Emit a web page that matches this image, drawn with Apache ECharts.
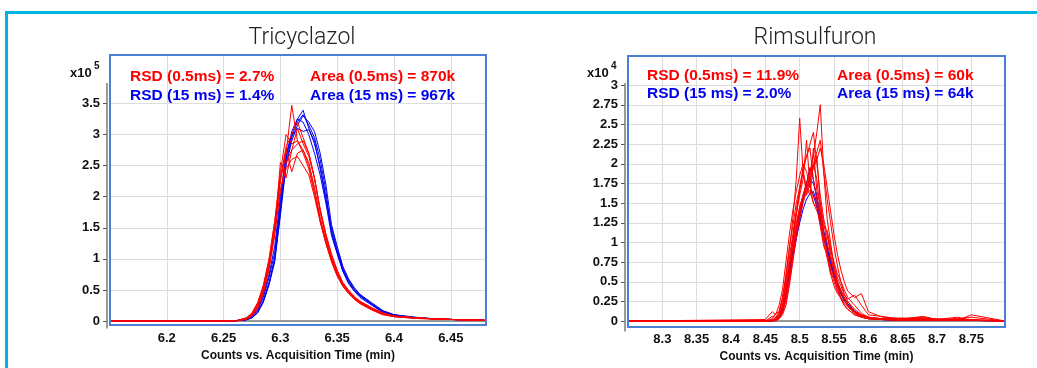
<!DOCTYPE html>
<html>
<head>
<meta charset="utf-8">
<script src="https://cdn.jsdelivr.net/npm/echarts@6/dist/echarts.min.js"></script>
<style>
    html, body { margin: 0; padding: 0; background: #fff; }
    #chartView { width: 1037px; height: 368px; }
</style>
</head>
<body>
<div id="chartView"></div>
<script>
    // Tricyclazol, counts x10^5
    var triTime = [6.15, 6.26, 6.27, 6.275, 6.28, 6.285, 6.29, 6.295, 6.30, 6.305, 6.31, 6.315, 6.32, 6.325, 6.33, 6.335, 6.34, 6.345, 6.35, 6.355, 6.36, 6.365, 6.37, 6.38, 6.39, 6.40, 6.42, 6.44, 6.46, 6.48];
    var triYTicks = [0, 0.5, 1, 1.5, 2, 2.5, 3, 3.5];
    var triBlue = [
        [0,0,0.03,0.07,0.18,0.38,0.7,1.1,1.9,2.65,3.0,3.2,3.32,3.15,2.95,2.6,2.1,1.4,1.1,0.8,0.62,0.5,0.4,0.27,0.15,0.09,0.05,0.03,0.02,0.01],
        [0,0,0.02,0.06,0.15,0.33,0.62,1.0,1.75,2.55,2.95,3.25,3.39,3.1,2.85,2.5,2.0,1.45,1.12,0.83,0.64,0.5,0.41,0.28,0.16,0.1,0.05,0.03,0.02,0.01],
        [0,0,0.03,0.08,0.2,0.42,0.75,1.2,2.0,2.7,2.98,3.1,3.05,3.08,2.9,2.45,1.95,1.5,1.15,0.85,0.66,0.52,0.42,0.28,0.16,0.1,0.05,0.03,0.02,0.01],
        [0,0,0.02,0.05,0.14,0.32,0.6,1.0,1.8,2.6,3.05,3.25,3.2,3.0,2.7,2.35,1.9,1.38,1.08,0.8,0.6,0.48,0.38,0.26,0.14,0.09,0.05,0.03,0.02,0.01],
        [0,0,0.02,0.05,0.13,0.3,0.58,0.95,1.7,2.5,2.9,3.15,3.3,3.2,3.05,2.7,2.2,1.55,1.2,0.88,0.68,0.54,0.43,0.3,0.17,0.1,0.06,0.03,0.02,0.01]
    ];
    var triRed = [
        [0,0,0.04,0.1,0.24,0.5,0.92,1.5,2.25,2.7,3.47,2.9,2.75,2.55,2.15,1.65,1.3,1.0,0.75,0.58,0.46,0.37,0.3,0.2,0.12,0.08,0.05,0.03,0.02,0.01],
        [0,0,0.05,0.12,0.28,0.55,0.98,1.6,2.4,3.0,2.85,2.9,2.7,2.45,2.05,1.6,1.25,0.95,0.72,0.56,0.45,0.36,0.29,0.19,0.11,0.07,0.04,0.03,0.02,0.01],
        [0,0,0.03,0.09,0.22,0.47,0.88,1.45,2.55,2.3,2.75,3.1,2.85,2.65,2.3,1.8,1.4,1.05,0.8,0.6,0.48,0.38,0.31,0.21,0.13,0.08,0.05,0.03,0.02,0.01],
        [0,0,0.04,0.11,0.26,0.52,0.9,1.45,2.1,2.45,2.6,2.65,2.5,2.35,2.0,1.6,1.25,0.98,0.74,0.57,0.46,0.36,0.29,0.19,0.11,0.07,0.05,0.03,0.02,0.01],
        [0,0,0.03,0.08,0.2,0.44,0.82,1.38,2.1,2.55,2.75,2.85,2.9,2.7,2.3,1.8,1.4,1.08,0.82,0.62,0.5,0.4,0.32,0.22,0.13,0.08,0.05,0.03,0.02,0.01],
        [0,0,0.05,0.13,0.3,0.58,1.0,1.6,2.3,2.75,2.4,2.7,2.75,2.5,2.1,1.65,1.28,0.98,0.74,0.56,0.44,0.35,0.28,0.18,0.1,0.07,0.04,0.03,0.02,0.01],
        [0,0,0.03,0.09,0.23,0.48,0.9,1.5,2.3,2.8,3.0,3.2,2.95,2.7,2.3,1.75,1.35,1.03,0.78,0.6,0.48,0.38,0.31,0.21,0.12,0.08,0.05,0.03,0.02,0.01]
    ];

    // Rimsulfuron, counts x10^4
    var rimTime = [8.25, 8.45, 8.46, 8.465, 8.47, 8.475, 8.48, 8.485, 8.49, 8.495, 8.50, 8.505, 8.51, 8.515, 8.52, 8.525, 8.53, 8.535, 8.54, 8.545, 8.55, 8.555, 8.56, 8.565, 8.57, 8.58, 8.59, 8.60, 8.62, 8.65, 8.68, 8.70, 8.73, 8.75, 8.80];
    var rimYTicks = [0, 0.25, 0.5, 0.75, 1, 1.25, 1.5, 1.75, 2, 2.25, 2.5, 2.75, 3];
    var rimBlue = [
        [0,0,0,0.01,0.05,0.15,0.35,0.6,0.85,1.1,1.35,1.55,1.7,1.8,1.75,1.6,1.35,1.15,0.95,0.75,0.6,0.48,0.37,0.28,0.22,0.12,0.07,0.04,0.02,0.01,0.01,0.01,0.01,0.01,0],
        [0,0,0,0.01,0.04,0.12,0.3,0.55,0.8,1.05,1.3,1.55,1.75,1.95,1.8,1.55,1.3,1.1,0.9,0.72,0.58,0.46,0.36,0.27,0.2,0.11,0.06,0.04,0.02,0.01,0.01,0.01,0.01,0.01,0],
        [0,0,0,0.01,0.05,0.15,0.33,0.58,0.82,1.05,1.25,1.42,1.55,1.62,1.65,1.5,1.3,1.12,0.95,0.77,0.62,0.5,0.38,0.29,0.22,0.13,0.07,0.04,0.02,0.01,0.01,0.01,0.01,0.01,0],
        [0,0,0,0.02,0.06,0.17,0.38,0.63,0.9,1.15,1.4,1.6,1.75,1.7,1.6,1.45,1.25,1.05,0.88,0.7,0.56,0.44,0.34,0.26,0.2,0.11,0.06,0.03,0.02,0.01,0.01,0.01,0.01,0.01,0]
    ];
    var rimRed = [
        [0,0,0,0.02,0.08,0.2,0.45,0.7,0.95,1.2,1.45,1.6,1.75,1.9,2.1,2.4,2.75,1.9,1.3,1.0,0.7,0.5,0.4,0.3,0.25,0.15,0.08,0.05,0.03,0.02,0.04,0.02,0.05,0.01,0],
        [0,0,0.03,0.1,0.12,0.3,0.55,0.9,1.3,1.8,2.58,1.9,1.7,1.6,2.0,1.8,1.4,1.1,0.9,0.6,0.45,0.35,0.3,0.22,0.18,0.1,0.06,0.04,0.02,0.03,0.05,0.02,0.01,0.08,0],
        [0,0,0,0.01,0.05,0.15,0.35,0.65,1.0,1.35,1.65,1.9,2.1,2.25,2.4,2.0,1.6,1.3,1.1,0.85,0.65,0.45,0.3,0.2,0.15,0.08,0.05,0.03,0.02,0.01,0.02,0.01,0.03,0.02,0],
        [0,0,0.06,0.05,0.1,0.25,0.5,0.8,1.1,1.4,1.7,1.95,2.1,2.2,1.8,1.55,1.4,1.2,1.15,0.95,0.7,0.55,0.45,0.33,0.28,0.33,0.2,0.08,0.06,0.02,0.03,0.01,0.02,0.01,0],
        [0,0,0,0.02,0.05,0.12,0.3,0.55,0.85,1.15,1.4,1.6,1.75,1.9,1.95,2.1,1.5,1.1,1.1,0.9,0.75,0.6,0.5,0.35,0.25,0.12,0.08,0.05,0.03,0.04,0.02,0.03,0.02,0.01,0],
        [0,0,0.02,0.04,0.12,0.3,0.6,0.95,1.2,1.5,1.7,1.9,1.6,1.75,1.5,1.4,1.3,1.0,0.8,0.6,0.55,0.45,0.38,0.3,0.2,0.1,0.05,0.03,0.02,0.01,0.02,0.01,0.01,0.02,0],
        [0,0,0,0,0.03,0.1,0.25,0.5,0.8,1.1,1.35,1.55,1.7,1.85,2.0,2.15,2.3,1.9,1.55,1.25,0.95,0.7,0.5,0.4,0.3,0.2,0.1,0.05,0.02,0.02,0.03,0.01,0.02,0.01,0],
        [0,0,0.01,0.03,0.08,0.2,0.4,0.7,1.0,1.25,1.45,1.6,1.7,1.65,1.5,1.45,1.2,0.95,0.85,0.7,0.55,0.4,0.3,0.25,0.2,0.12,0.07,0.04,0.02,0.01,0.01,0.02,0.01,0.01,0],
        [0,0.02,0.12,0.08,0.2,0.4,0.75,1.1,1.4,1.65,1.85,2.0,1.9,1.7,1.6,1.5,1.35,1.1,0.85,0.65,0.5,0.38,0.28,0.2,0.15,0.08,0.05,0.03,0.02,0.03,0.01,0.02,0.01,0.01,0],
        [0,0,0,0.01,0.03,0.08,0.2,0.45,0.75,1.05,1.3,1.5,1.65,1.8,1.95,2.05,2.2,2.0,1.7,1.4,1.1,0.85,0.65,0.5,0.38,0.3,0.35,0.12,0.05,0.03,0.06,0.02,0.03,0.05,0],
        [0,0,0.01,0.02,0.06,0.18,0.42,0.72,1.05,1.35,1.6,1.8,2.3,1.7,2.2,1.65,1.5,1.25,1.0,0.8,0.62,0.48,0.36,0.28,0.2,0.11,0.06,0.04,0.02,0.02,0.01,0.01,0.02,0.01,0]
    ];

    var titles = ['Tricyclazol', 'Rimsulfuron'];
    var rsdText = [['RSD (0.5ms) = 2.7%', 'RSD (15 ms) = 1.4%'], ['RSD (0.5ms) = 11.9%', 'RSD (15 ms) = 2.0%']];
    var areaText = [['Area (0.5ms) = 870k', 'Area (15 ms) = 967k'], ['Area (0.5ms) = 60k', 'Area (15 ms) = 64k']];
    var xName = 'Counts vs. Acquisition Time (min)';

    var RED = '#ff0000';
    var BLUE = '#0000ee';
    var AXIS = '#7a7a7a';
    var FONT = '"Liberation Sans", Arial, sans-serif';

    var chartView = echarts.init(document.getElementById('chartView'), null, {renderer: 'canvas'});

    function makeSeries(times, traces, color, idx) {
        return traces.map(function (vals) {
            return {
                type: 'line',
                xAxisIndex: idx,
                yAxisIndex: idx,
                symbol: 'none',
                silent: true,
                clip: true,
                lineStyle: {color: color, width: 1},
                data: times.map(function (t, i) { return [t, vals[i]]; })
            };
        });
    }

    function xAxisOf(idx, min, max, offset) {
        return {
            type: 'value', gridIndex: idx, min: min, max: max, interval: 0.05,
            offset: offset,
            name: xName, nameLocation: 'middle', nameGap: 20,
            nameTextStyle: {fontFamily: FONT, fontWeight: 'bold', fontSize: 12, color: '#111'},
            axisLine: {show: true, lineStyle: {color: AXIS, width: 1.5}},
            axisTick: {show: false},
            axisLabel: {showMinLabel: false, showMaxLabel: false, margin: 4,
                fontFamily: FONT, fontWeight: 'bold', fontSize: 13, color: '#111'},
            splitLine: {show: true, lineStyle: {color: '#dcdcdc', width: 1}}
        };
    }

    function yAxisOf(idx, max, interval, ticks, offset) {
        var top = ticks[ticks.length - 1];
        return {
            type: 'value', gridIndex: idx, min: 0, max: max, interval: interval,
            offset: offset,
            axisLine: {show: false},
            axisTick: {show: true, length: 4, lineStyle: {color: '#555'}, customValues: ticks},
            axisLabel: {margin: 7, fontFamily: FONT, fontWeight: 'bold', fontSize: 13, color: '#111',
                customValues: ticks,
                formatter: function (v) { return v > top + 0.01 ? '' : String(+v.toFixed(2)); }},
            splitLine: {show: true, lineStyle: {color: '#dcdcdc', width: 1}}
        };
    }

    function txt(x, y, text, color, size, weight, family, align) {
        return {
            type: 'text', x: x, y: y, silent: true, z: 50,
            style: {text: text, fill: color, font: weight + ' ' + size + 'px ' + family,
                align: align || 'left', textAlign: align || 'left',
                verticalAlign: 'middle', textVerticalAlign: 'middle'}
        };
    }

    function line(x1, y1, x2, y2, color, w) {
        return {type: 'line', silent: true, z: 50, shape: {x1: x1, y1: y1, x2: x2, y2: y2},
            style: {stroke: color, lineWidth: w}};
    }

    var graphics = [
        // cyan frame
        line(5, 12.5, 1037, 12.5, '#00b4e0', 3),
        line(6.5, 11, 6.5, 368, '#00b4e0', 3),
        // y axis lines (stop just above the top tick, as in the source)
        line(107, 83, 107, 328.5, AXIS, 1.5),
        line(625, 83, 625, 331.5, AXIS, 1.5),
        // plot boxes
        {type: 'rect', silent: true, z: 100, shape: {x: 110, y: 55, width: 376, height: 270}, style: {fill: null, stroke: '#4a7fd4', lineWidth: 2}},
        {type: 'rect', silent: true, z: 100, shape: {x: 628, y: 56, width: 377, height: 271}, style: {fill: null, stroke: '#4a7fd4', lineWidth: 2}},
        // titles
        txt(302, 38, titles[0], '#222', 23, '300', 'Roboto, "Noto Sans", sans-serif', 'center'),
        txt(815, 38, titles[1], '#222', 23, '300', 'Roboto, "Noto Sans", sans-serif', 'center'),
        // exponent labels
        txt(70, 73, 'x10', '#111', 13, 'bold', FONT),
        txt(94, 66, '5', '#111', 10, 'bold', FONT),
        txt(587, 73, 'x10', '#111', 13, 'bold', FONT),
        txt(611, 66, '4', '#111', 10, 'bold', FONT),
        // annotations
        txt(130, 77, rsdText[0][0], RED, 15.5, 'bold', FONT),
        txt(130, 96, rsdText[0][1], BLUE, 15.5, 'bold', FONT),
        txt(310, 77, areaText[0][0], RED, 15.5, 'bold', FONT),
        txt(310, 96, areaText[0][1], BLUE, 15.5, 'bold', FONT),
        txt(647, 76, rsdText[1][0], RED, 15.5, 'bold', FONT),
        txt(647, 94, rsdText[1][1], BLUE, 15.5, 'bold', FONT),
        txt(837, 76, areaText[1][0], RED, 15.5, 'bold', FONT),
        txt(837, 94, areaText[1][1], BLUE, 15.5, 'bold', FONT)
    ];

    var option = {
        animation: false,
        backgroundColor: '#fff',
        grid: [
            {left: 110, right: 551, top: 55, bottom: 47},
            {left: 628, right: 32, top: 56, bottom: 45}
        ],
        xAxis: [xAxisOf(0, 6.15, 6.481, 7), xAxisOf(1, 8.25, 8.799, 8)],
        yAxis: [yAxisOf(0, 4.28, 0.5, triYTicks, 3), yAxisOf(1, 3.37, 0.25, rimYTicks, 3)],
        series: [].concat(
            makeSeries(triTime, triBlue, BLUE, 0),
            makeSeries(triTime, triRed, RED, 0),
            makeSeries(rimTime, rimBlue, BLUE, 1),
            makeSeries(rimTime, rimRed, RED, 1)
        ),
        graphic: graphics
    };

    chartView.setOption(option);
</script>
</body>
</html>
